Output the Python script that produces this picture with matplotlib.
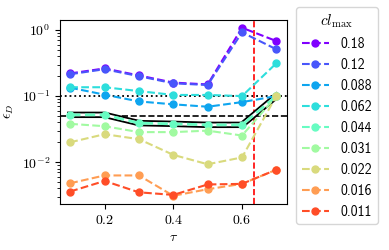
import numpy as np
import matplotlib
matplotlib.use('Agg')
import matplotlib.pyplot as plt

plt.rcParams['font.family'] = 'serif'
plt.rcParams['font.serif'] = ['cmr10']
plt.rcParams['mathtext.fontset'] = 'cm'
plt.rcParams['axes.formatter.use_mathtext'] = True
plt.rcParams['font.size'] = 10

tau = [0.1, 0.2, 0.3, 0.4, 0.5, 0.6, 0.7]
cl_labels = ['0.18', '0.12', '0.088', '0.062', '0.044', '0.031', '0.022', '0.016', '0.011']
eps_d = [
    [0.22, 0.262, 0.205, 0.16, 0.15, 1.08, 0.68],
    [0.214, 0.255, 0.20, 0.156, 0.147, 0.92, 0.51],
    [0.134, 0.105, 0.083, 0.075, 0.069, 0.081, 0.10],
    [0.136, 0.136, 0.119, 0.104, 0.104, 0.10, 0.314],
    [0.052, 0.052, 0.039, 0.038, 0.0367, 0.0367, 0.10],
    [0.038, 0.035, 0.0285, 0.0285, 0.030, 0.0253, 0.10],
    [0.020, 0.0265, 0.0223, 0.0129, 0.0093, 0.0118, 0.101],
    [0.0048, 0.0063, 0.0063, 0.0031, 0.0039, 0.0047, 0.0077],
    [0.0036, 0.0052, 0.0035, 0.0032, 0.0046, 0.0047, 0.0077],
]
highlight = '0.044'
tau_crit = 0.636
eps_levels = [0.1, 0.05]

colors = plt.cm.rainbow(np.linspace(0, 0.9, len(cl_labels)))

fig = plt.figure(figsize=(3.89, 2.5), dpi=100)
ax = fig.add_axes([0.154, 0.184, 0.583, 0.738])

for lab, vals, c in zip(cl_labels, eps_d, colors):
    if lab == highlight:
        # thick black outline under the chosen series
        ax.plot(tau, vals, '-', color='black', lw=4.6, zorder=2)
        ax.plot(tau, vals, '-', color='white', lw=2.0, zorder=2)
        ax.plot(tau, vals, '--', color=c, marker='o', ms=5, lw=2.0, label=lab, zorder=3)
    else:
        ax.plot(tau, vals, '--', color=c, marker='o', ms=5, lw=1.5, label=lab, zorder=3)

ax.axhline(eps_levels[0], color='black', ls=':', lw=1.3, zorder=1)
ax.axhline(eps_levels[1], color='black', ls='--', lw=1.2, zorder=1)
ax.axvline(tau_crit, color='red', ls='--', lw=1.2, zorder=1)

ax.set_yscale('log')
ax.set_ylim(0.00233, 1.44)
ax.set_xticks([0.2, 0.4, 0.6])
ax.set_xlabel(r'$\tau$')
ax.set_ylabel(r'$\epsilon_D$')

leg = ax.legend(title=r'$cl_{\max}$', loc='upper left',
                bbox_to_anchor=(296 / 389, 1 - 7 / 250),
                bbox_transform=fig.transFigure,
                prop={'family': 'cmss10', 'size': 10},
                title_fontsize=11, borderaxespad=0)
for h in leg.legend_handles:
    h.set_linewidth(1.5)

fig.savefig('out.png', dpi=100)
